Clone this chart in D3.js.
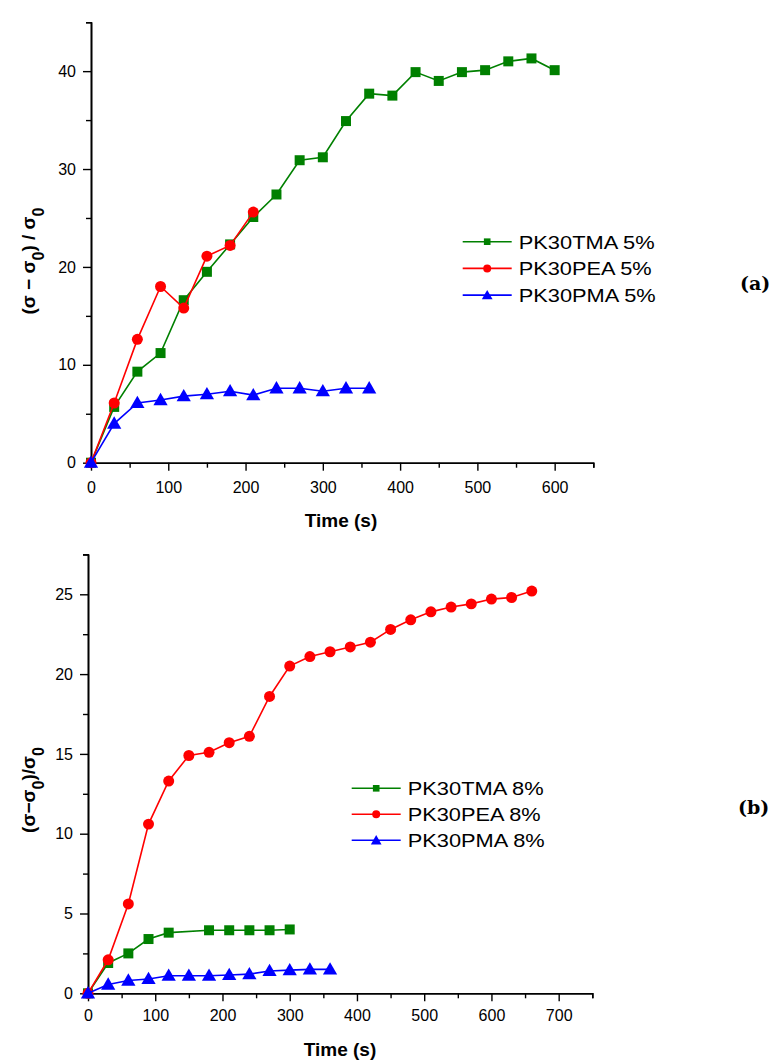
<!DOCTYPE html>
<html>
<head>
<meta charset="utf-8">
<script src="https://cdn.jsdelivr.net/npm/d3@7"></script>
<style>
  html, body { margin: 0; padding: 0; background: #fff; }
  svg { display: block; }
  text { font-family: "Liberation Sans", Arial, sans-serif; }
</style>
</head>
<body>
<svg id="chart" width="772" height="1061"></svg>
<script>
// ---------- DATA ----------
// Panel (a): 5%
const timeA_TMA = [0,30,60,90,120,150,180,210,240,270,300,330,360,390,420,450,480,510,540,570,600];
const valA_TMA  = [0,5.7,9.3,11.2,16.6,19.5,22.3,25.1,27.4,30.9,31.2,34.9,37.7,37.5,39.9,39.0,39.9,40.1,41.0,41.3,40.1];
const timeA_PEA = [0,30,60,90,120,150,180,210];
const valA_PEA  = [0,6.1,12.6,18.0,15.8,21.1,22.2,25.6];
const timeA_PMA = [0,30,60,90,120,150,180,210,240,270,300,330,360];
const valA_PMA  = [0,4.0,6.1,6.4,6.8,7.0,7.3,6.9,7.6,7.6,7.3,7.6,7.6];
const legendA   = ["PK30TMA 5%", "PK30PEA 5%", "PK30PMA 5%"];
const xTicksA   = [0,100,200,300,400,500,600];
const yTicksA   = [0,10,20,30,40];

// Panel (b): 8%
const timeB_TMA = [0,30,60,90,120,180,210,240,270,300];
const valB_TMA  = [0,1.9,2.5,3.4,3.8,3.95,3.95,3.95,3.95,4.0];
const timeB_PEA = [0,30,60,90,120,150,180,210,240,270,300,330,360,390,420,450,480,510,540,570,600,630,660];
const valB_PEA  = [0,2.1,5.6,10.6,13.3,14.9,15.1,15.7,16.1,18.6,20.5,21.1,21.4,21.7,22.0,22.8,23.4,23.9,24.2,24.4,24.7,24.8,25.2];
const timeB_PMA = [0,30,60,90,120,150,180,210,240,270,300,330,360];
const valB_PMA  = [0,0.55,0.8,0.9,1.1,1.1,1.1,1.15,1.2,1.4,1.45,1.5,1.5];
const legendB   = ["PK30TMA 8%", "PK30PEA 8%", "PK30PMA 8%"];
const xTicksB   = [0,100,200,300,400,500,600,700];
const yTicksB   = [0,5,10,15,20,25];

const colors  = ["#008000", "#ff0000", "#0000ff"];
const symbols = [d3.symbolSquare, d3.symbolCircle, d3.symbolTriangle];
const symSize = [100, 95, 88];
const legSize = [44, 50, 50];

const svg = d3.select("#chart");

function panel(cfg) {
  const x = d3.scaleLinear().domain(cfg.xDomain).range(cfg.xRange);
  const y = d3.scaleLinear().domain(cfg.yDomain).range(cfg.yRange);
  const g = svg.append("g");

  // minor ticks
  const xMinor = d3.range(cfg.xDomain[0], cfg.xDomain[1] + 0.001, cfg.xMinorStep).filter(v => !cfg.xTicks.includes(v));
  const yMinor = d3.range(cfg.yDomain[0], cfg.yDomain[1] + 0.001, cfg.yMinorStep).filter(v => !cfg.yTicks.includes(v));

  const xAxisMinor = g.append("g").attr("transform", `translate(0,${cfg.yRange[0]})`)
    .call(d3.axisBottom(x).tickValues(xMinor).tickSize(5).tickFormat(""));
  const yAxisMinor = g.append("g").attr("transform", `translate(${cfg.xRange[0]},0)`)
    .call(d3.axisLeft(y).tickValues(yMinor).tickSize(5).tickFormat(""));

  const xAxis = g.append("g").attr("transform", `translate(0,${cfg.yRange[0]})`)
    .call(d3.axisBottom(x).tickValues(cfg.xTicks).tickSize(8).tickPadding(cfg.xPad).tickSizeOuter(0));
  const yAxis = g.append("g").attr("transform", `translate(${cfg.xRange[0]},0)`)
    .call(d3.axisLeft(y).tickValues(cfg.yTicks).tickSize(8).tickPadding(7).tickSizeOuter(0));

  [xAxisMinor, yAxisMinor, xAxis, yAxis].forEach(a => {
    a.selectAll("path.domain").attr("stroke", "#000").attr("stroke-width", 1.6);
    a.selectAll(".tick line").attr("stroke", "#000").attr("stroke-width", 1.4);
    a.selectAll(".tick text").attr("fill", "#000").style("font-size", "16px")
      .style("font-family", '"Liberation Sans", Arial, sans-serif');
  });

  // series
  cfg.series.forEach((s, i) => {
    const pts = s.t.map((t, k) => [t, s.v[k]]);
    g.append("path").datum(pts)
      .attr("fill", "none").attr("stroke", colors[i]).attr("stroke-width", 1.6)
      .attr("d", d3.line().x(d => x(d[0])).y(d => y(d[1])));
    g.selectAll(null).data(pts).enter().append("path")
      .attr("transform", d => `translate(${x(d[0])},${y(d[1]) + (i === 2 ? 1 : 0)})`)
      .attr("d", d3.symbol().type(symbols[i]).size(symSize[i]))
      .attr("fill", colors[i]);
  });

  // legend
  cfg.legend.forEach((name, i) => {
    const ly = cfg.legY + i * cfg.legStep;
    g.append("line").attr("x1", cfg.legX).attr("x2", cfg.legX + 49)
      .attr("y1", ly).attr("y2", ly).attr("stroke", colors[i]).attr("stroke-width", 1.6);
    g.append("path").attr("transform", `translate(${cfg.legX + 24.5},${ly + (i === 2 ? 1 : 0)})`)
      .attr("d", d3.symbol().type(symbols[i]).size(legSize[i])).attr("fill", colors[i]);
    g.append("text").attr("x", cfg.legX + 56).attr("y", ly + 7)
      .attr("textLength", cfg.legW[i]).attr("lengthAdjust", "spacingAndGlyphs")
      .style("font-size", "19px").attr("fill", "#000").text(name);
  });

  // x title
  g.append("text").attr("x", cfg.xTitleX).attr("y", cfg.xTitleY)
    .attr("text-anchor", "middle").style("font-size", "19px").style("font-weight", "bold")
    .text("Time (s)");

  // y title
  const yt = g.append("text").attr("transform", `translate(${cfg.yTitleX},${cfg.yTitleY}) rotate(-90)`)
    .attr("text-anchor", "middle").style("font-size", "19px").style("font-weight", "bold");
  cfg.yTitleParts.forEach(p => {
    const ts = yt.append("tspan").text(p.t);
    if (p.sub) ts.attr("baseline-shift", "sub").style("font-size", "16px");
  });

  // panel letter
  g.append("text").attr("x", cfg.tagX).attr("y", cfg.tagY)
    .style("font-family", '"DejaVu Serif", "Liberation Serif", serif')
    .style("font-size", "19px").style("font-weight", "bold").text(cfg.tag);
}

panel({
  xDomain: [0, 650], xRange: [91, 593.3], xTicks: xTicksA, xMinorStep: 50, xPad: 11,
  yDomain: [0, 45], yRange: [462.7, 22.2], yTicks: yTicksA, yMinorStep: 5,
  series: [{t: timeA_TMA, v: valA_TMA}, {t: timeA_PEA, v: valA_PEA}, {t: timeA_PMA, v: valA_PMA}],
  legend: legendA, legX: 462.7, legY: 241.7, legStep: 26.7, legW: [136, 133, 137],
  xTitleX: 341, xTitleY: 527,
  yTitleX: 35, yTitleY: 261,
  yTitleParts: [{t: "(σ − σ"}, {t: "0", sub: true}, {t: ") / σ"}, {t: "0", sub: true}],
  tag: "(a)", tagX: 740, tagY: 290
});

panel({
  xDomain: [0, 750], xRange: [88, 592.3], xTicks: xTicksB, xMinorStep: 50, xPad: 8,
  yDomain: [0, 27.5], yRange: [993.3, 554.4], yTicks: yTicksB, yMinorStep: 2.5,
  series: [{t: timeB_TMA, v: valB_TMA}, {t: timeB_PEA, v: valB_PEA}, {t: timeB_PMA, v: valB_PMA}],
  legend: legendB, legX: 351.7, legY: 788.3, legStep: 26, legW: [136, 133, 137],
  xTitleX: 340, xTitleY: 1056,
  yTitleX: 35, yTitleY: 790,
  yTitleParts: [{t: "(σ−σ"}, {t: "0", sub: true}, {t: ")/σ"}, {t: "0", sub: true}],
  tag: "(b)", tagX: 738, tagY: 814
});
</script>
</body>
</html>
